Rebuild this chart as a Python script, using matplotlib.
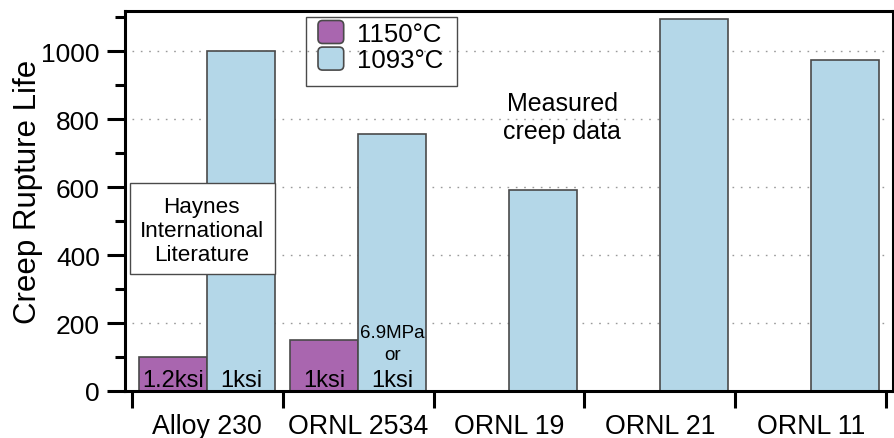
import numpy as np
import matplotlib
matplotlib.use("Agg")
import matplotlib.pyplot as plt
from matplotlib.patches import Rectangle, FancyBboxPatch, Patch
from matplotlib.legend_handler import HandlerPatch

plt.rcParams['font.family'] = ['Liberation Sans', 'DejaVu Sans']

# ---- data ----
categories = ["Alloy 230", "ORNL 2534", "ORNL 19", "ORNL 21", "ORNL 11"]
series_names = ["1150°C", "1093°C"]
life_1150 = [100, 150, 0, 0, 0]
life_1093 = [1000, 755, 592, 1094, 973]
labels_1150 = ["1.2ksi", "1ksi", "", "", ""]
labels_1093 = ["1ksi", "1ksi", "", "", ""]
y_major = [0, 200, 400, 600, 800, 1000]
y_minor = [100, 300, 500, 700, 900, 1100]

c_purple = "#A966AF"
c_blue = "#B4D7E8"
c_edge = "#4a4a4a"

W, H = 895, 439
fig = plt.figure(figsize=(W/100, H/100), dpi=100)
ax_l, ax_r, ax_t, ax_b = 125, 893, 12, 392
ax = fig.add_axes([ax_l/W, (H-ax_b)/H, (ax_r-ax_l)/W, (ax_b-ax_t)/H])


def px_to_axes(px, py):
    return (px - ax_l) / (ax_r - ax_l), (ax_b - py) / (ax_b - ax_t)


x = np.arange(len(categories))
w = 0.45

# grid lines (dotted), behind bars
ax.hlines(y_major[1:], -0.5, len(categories)-0.5, colors="#9a9a9a",
          linestyles=(0, (1.2, 4.8)), linewidth=1.0, zorder=0)

v1 = np.array(life_1150, dtype=float)
m = v1 > 0
ax.bar(x[m] - w/2, v1[m], width=w, color=c_purple, edgecolor=c_edge,
       linewidth=1.2, zorder=2)
ax.bar(x + w/2, life_1093, width=w, color=c_blue, edgecolor=c_edge,
       linewidth=1.2, zorder=2)

# bar labels
for i in range(len(categories)):
    if labels_1150[i]:
        ax.text(x[i] - w/2, 14, labels_1150[i], ha="center", va="baseline",
                fontsize=17, zorder=3)
for i in range(len(categories)):
    if labels_1093[i]:
        ax.text(x[i] + w/2, 14, labels_1093[i], ha="center", va="baseline",
                fontsize=17, zorder=3)
ax.text(x[1] + w/2, 159, "6.9MPa", ha="center", va="baseline", fontsize=13.5, zorder=3)
ax.text(x[1] + w/2, 94, "or", ha="center", va="baseline", fontsize=13.5, zorder=3)

# Haynes box
ax.add_patch(Rectangle((-0.513, 344), 0.96, 268, facecolor="white",
                       edgecolor=c_edge, linewidth=1.0, zorder=4))
ax.text(-0.036, 472, "Haynes\nInternational\nLiterature", ha="center", va="center",
        fontsize=16.2, linespacing=1.2, zorder=5)

ax.text(2.354, 806, "Measured\ncreep data", ha="center", va="center",
        fontsize=18, linespacing=1.2, zorder=5)

# axes
ax.set_xlim(-0.546, len(categories) - 0.454)
ax.set_ylim(0, 1118)
for s in ax.spines.values():
    s.set_linewidth(2.2)
    s.set_color("black")

ax.set_yticks(y_major)
ax.set_yticks(y_minor, minor=True)
ax.tick_params(axis="y", which="major", length=13, width=2.2, pad=5, labelsize=19, direction="out")
ax.tick_params(axis="y", which="minor", length=7, width=2.2, direction="out")

ax.set_xticks(np.arange(len(categories) + 1) - 0.5)
ax.set_xticklabels([])
ax.set_xticks(x, minor=True)
ax.set_xticklabels(categories, minor=True)
ax.tick_params(axis="x", which="major", length=12, width=2.2, direction="out")
ax.tick_params(axis="x", which="minor", length=0, pad=15.5, labelsize=19.3)

ax.set_ylabel("Creep Rupture Life", fontsize=22.5)
ax.yaxis.set_label_coords(-0.107, 0.526)


class RoundHandler(HandlerPatch):
    def create_artists(self, legend, orig_handle, xdescent, ydescent, width,
                       height, fontsize, trans):
        r = 0.2 * min(width, height)
        p = FancyBboxPatch((-xdescent + r, -ydescent + r), width - 2*r, height - 2*r,
                           boxstyle=f"round,pad={r}",
                           facecolor=orig_handle.get_facecolor(),
                           edgecolor=orig_handle.get_edgecolor(),
                           linewidth=orig_handle.get_linewidth(), transform=trans)
        return [p]


handles = [Patch(facecolor=c_purple, edgecolor=c_edge, linewidth=1.2),
           Patch(facecolor=c_blue, edgecolor=c_edge, linewidth=1.2)]
leg = ax.legend(handles, series_names, loc="upper left",
                bbox_to_anchor=px_to_axes(318, 21.5),
                borderaxespad=0, fontsize=18.5, handlelength=1.0, handleheight=1.0,
                handletextpad=0.5, labelspacing=0.05, borderpad=0.0,
                frameon=False, handler_map={Patch: RoundHandler()})
leg.set_zorder(6)

# legend frame
fx0, fy0 = px_to_axes(306, 87)
fx1, fy1 = px_to_axes(457, 18)
ax.add_patch(Rectangle((fx0, fy0), fx1 - fx0, fy1 - fy0, transform=ax.transAxes,
                       facecolor="none", edgecolor=c_edge, linewidth=1.0,
                       zorder=6, clip_on=False))

fig.savefig("out.png", dpi=100)
